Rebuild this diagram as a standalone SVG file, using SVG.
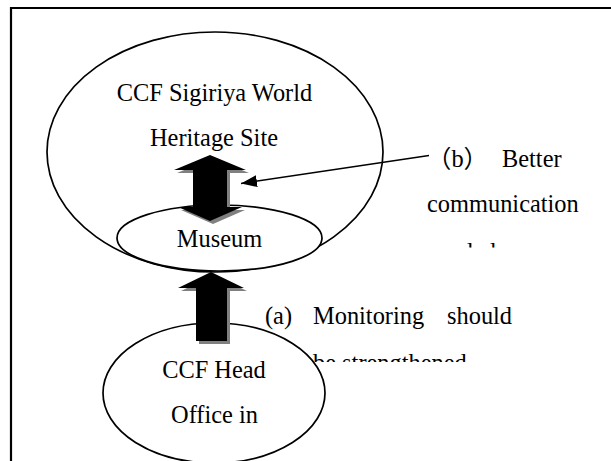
<svg xmlns="http://www.w3.org/2000/svg" width="611" height="461" viewBox="0 0 611 461">
<style>
  .t{font-family:"Liberation Serif","Times New Roman","Noto Sans CJK SC",serif;font-size:24.4px;fill:#000}
  .n{fill:#fff;stroke:#000;stroke-width:1.7}
  .frame{fill:none;stroke:#000;stroke-width:2.2}
  .sh{fill:#808080}
  .ar{fill:#000}
  .ptr{stroke:#000;stroke-width:1.6;fill:none}
</style>
<defs>
  <polygon id="dbl" points="210,155 246,170 227,170 227,207 242,207 210,221 178,207 193,207 193,170 174,170"/>
  <polygon id="up" points="211,272 244,288 227,288 227,341 196,341 196,288 178,288"/>
  <marker id="ah" markerWidth="16" markerHeight="12" refX="16" refY="6" orient="auto" markerUnits="userSpaceOnUse">
    <path d="M0,0 L16,6 L0,12 z" fill="#000"/>
  </marker>
  <clipPath id="clipA"><rect x="250" y="290" width="320" height="72"/></clipPath>
  <clipPath id="clipB"><rect x="415" y="135" width="196" height="112.5"/></clipPath>
</defs>
<rect width="611" height="461" fill="#fff"/>
<path class="frame" d="M11,461 V8 H611"/>

<g id="sigiriya">
  <ellipse class="n" cx="215" cy="152" rx="168" ry="120"/>
  <text class="t" x="214.5" y="101" text-anchor="middle">CCF Sigiriya World</text>
  <text class="t" x="214" y="146" text-anchor="middle">Heritage Site</text>
</g>
<g id="museum">
  <ellipse class="n" cx="219.5" cy="238" rx="102.5" ry="33"/>
  <text class="t" x="219.5" y="247" text-anchor="middle">Museum</text>
</g>
<g id="headoffice">
  <ellipse class="n" cx="214" cy="393" rx="111" ry="70"/>
  <text class="t" x="214" y="378" text-anchor="middle">CCF Head</text>
  <text class="t" x="214.5" y="423" text-anchor="middle">Office in</text>
</g>

<g id="connectors">
  <use href="#dbl" class="sh" transform="translate(3,3)"/>
  <use href="#dbl" class="ar"/>
  <use href="#up" class="sh" transform="translate(3,3)"/>
  <use href="#up" class="ar"/>
  <line class="ptr" x1="429" y1="155.5" x2="241" y2="183.5" marker-end="url(#ah)"/>
</g>

<g id="label-a">
  <text class="t" x="265" y="324">(a)</text>
  <text class="t" x="313" y="324">Monitoring</text>
  <text class="t" x="447" y="324">should</text>
  <text class="t" x="313" y="371" clip-path="url(#clipA)">be strengthened</text>
</g>
<g id="label-b">
  <text class="t" x="427" y="167">（b）</text>
  <text class="t" x="502" y="167">Better</text>
  <text class="t" x="427" y="212">communication</text>
  <text class="t" x="427" y="259.5" clip-path="url(#clipB)">needed</text>
</g>
</svg>
